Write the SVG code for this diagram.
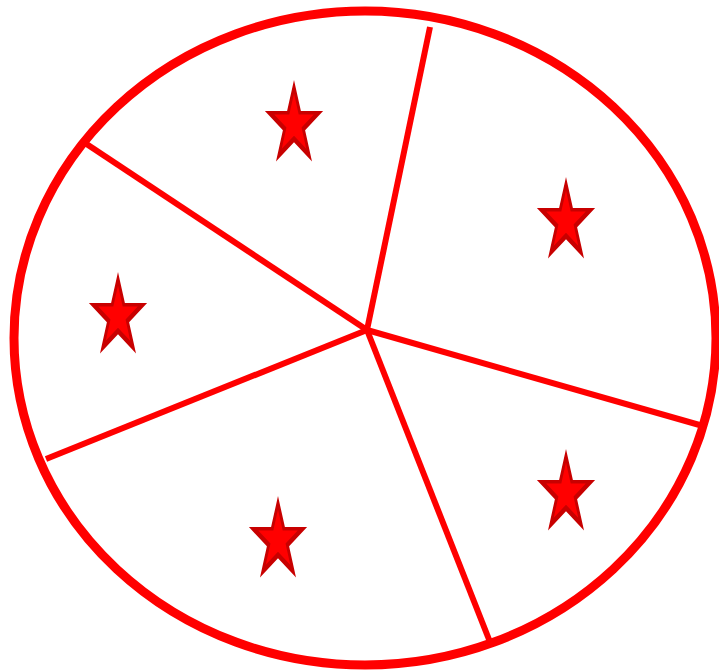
<svg xmlns="http://www.w3.org/2000/svg" width="719" height="672" viewBox="0 0 719 672">
<style>
.rim{fill:none;stroke:#ff0000;stroke-width:9}
.cut{stroke:#ff0000;stroke-width:6;fill:none}
.so{fill:#c80000}
.si{fill:#ff0000}
</style>
<defs>
<path id="star" d="M0,-45 L6.9,-13.9 L29.1,-13.9 L11.1,5.3 L18,36.4 L0,17.2 L-18,36.4 L-11.1,5.3 L-29.1,-13.9 L-6.9,-13.9 Z"/>
<g id="bstar"><use href="#star" class="so"/><use href="#star" class="si" transform="translate(0,-1) scale(0.68)"/></g>
</defs>
<rect width="719" height="672" fill="#fff"/>
<g id="circle"><ellipse class="rim" cx="365" cy="338" rx="351" ry="327"/></g>
<g id="connectors">
<line class="cut" x1="367" y1="330" x2="430" y2="27"/>
<line class="cut" x1="367" y1="330" x2="82" y2="141"/>
<line class="cut" x1="367" y1="330" x2="46" y2="459"/>
<line class="cut" x1="367" y1="330" x2="490" y2="642"/>
<line class="cut" x1="367" y1="330" x2="703" y2="426"/>
</g>
<g id="star1"><use href="#bstar" transform="translate(294,125)"/></g>
<g id="star2"><use href="#bstar" transform="translate(566,222)"/></g>
<g id="star3"><use href="#bstar" transform="translate(118,317)"/></g>
<g id="star4"><use href="#bstar" transform="translate(278,541)"/></g>
<g id="star5"><use href="#bstar" transform="translate(566,494)"/></g>
</svg>
